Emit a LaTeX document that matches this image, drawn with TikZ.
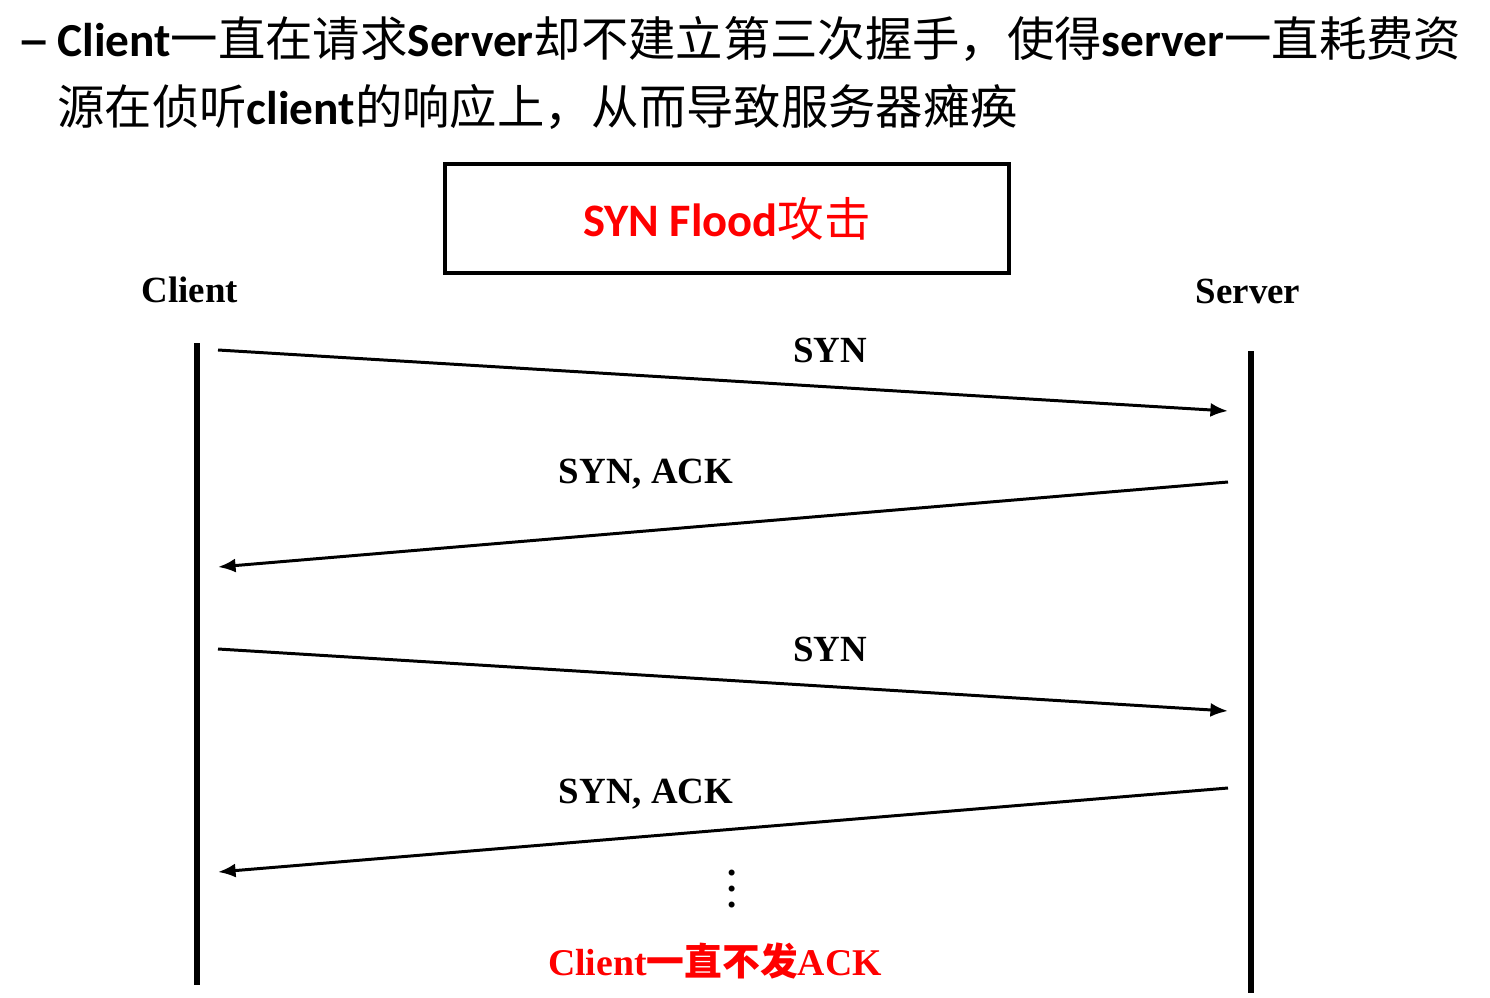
\documentclass[tikz,border=0pt]{standalone}
\usepackage{fontspec}
\setmainfont{Liberation Serif}
\newfontfamily\calfont{Carlito}
\newfontfamily\cjk{Noto Sans CJK SC}
\usetikzlibrary{arrows.meta}
\definecolor{alertred}{RGB}{255,0,0}
\newcommand{\lat}[1]{{\calfont\bfseries #1}}
\newcommand{\zh}[1]{{\cjk #1}}

\begin{document}
\begin{tikzpicture}[x=0.02cm, y=-0.02cm,
    msg/.style={line width=1.7pt, -{Latex[length=10pt,width=8pt]}},
    life/.style={line width=3.4pt},
    lbl/.style={font=\fontsize{21}{25}\selectfont\bfseries, inner sep=0pt},
    head/.style={font=\fontsize{26.95}{32}\selectfont, anchor=base west, inner sep=0pt}]
    \useasboundingbox (0,0) rectangle (1490,997);

    % 标题文字
    \node[head, font=\fontsize{38}{38}\selectfont] (dash) at (17,62) {{\calfont –}};
    \node[head] (line1) at (57,57) {\lat{Client}\zh{一直在请求}\lat{Server}\zh{却不建立第三次握手，使得}\lat{server}\zh{一直耗费资}};
    \node[head] (line2) at (57,125) {\zh{源在侦听}\lat{client}\zh{的响应上，从而导致服务器瘫痪}};

    % 标题框
    \node[draw, line width=2.3pt, minimum width=11.28cm, minimum height=2.18cm,
          text=alertred, font=\fontsize{26.5}{30}\selectfont] (title) at (727,218.5)
          {\lat{SYN Flood}\zh{攻击}};

    % 两条时间线
    \node[lbl] (client) at (190,290) {Client};
    \node[lbl] (server) at (1248,291) {Server};
    \coordinate (ctop) at (197,343);
    \coordinate (cbot) at (197,985);
    \coordinate (stop) at (1251,351);
    \coordinate (sbot) at (1251,993);
    \draw[life] (ctop) -- (cbot);
    \draw[life] (stop) -- (sbot);

    % 报文
    \coordinate (c1) at (218,350);
    \coordinate (s1) at (1228,411);
    \coordinate (s2) at (1228,482);
    \coordinate (c2) at (218,567);
    \coordinate (c3) at (218,649);
    \coordinate (s3) at (1228,711);
    \coordinate (s4) at (1228,788);
    \coordinate (c4) at (218,872);
    \draw[msg] (c1) -- (s1);
    \node[lbl] (syn1) at (830,350) {SYN};
    \draw[msg] (s2) -- (c2);
    \node[lbl] (ack1) at (646,474) {SYN, ACK};
    \draw[msg] (c3) -- (s3);
    \node[lbl] (syn2) at (830,649) {SYN};
    \draw[msg] (s4) -- (c4);
    \node[lbl] (ack2) at (646,794) {SYN, ACK};

    % 省略
    \node[lbl, align=center, font=\fontsize{21}{9}\selectfont\bfseries] (dots) at (732,889) {.\\.\\.};
    \node[lbl, text=alertred, font=\fontsize{21.5}{25}\selectfont\bfseries] (noack) at (715,961) {Client{\cjk\bfseries 一直不发}ACK};
\end{tikzpicture}
\end{document}
